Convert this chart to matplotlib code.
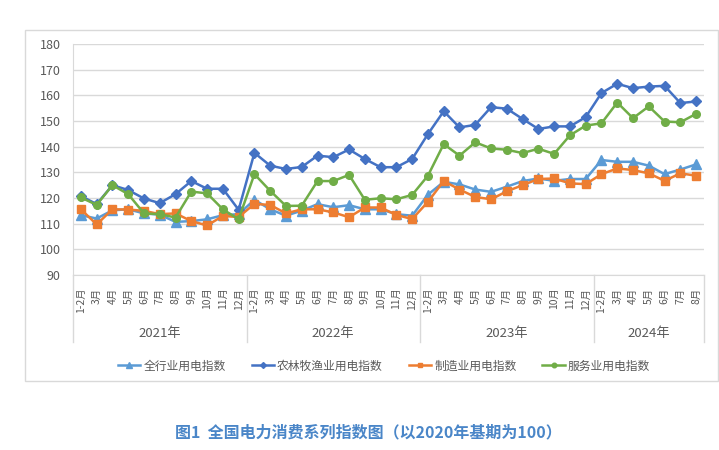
import matplotlib.pyplot as plt
import matplotlib.transforms as mtransforms
from matplotlib.patches import Rectangle

plt.rcParams['font.family'] = ['Noto Sans CJK SC', 'DejaVu Sans']

years = ['2021年', '2022年', '2023年', '2024年']
months_per_year = [11, 11, 11, 7]
month_labels = (['1-2月', '3月', '4月', '5月', '6月', '7月', '8月', '9月', '10月', '11月', '12月'] * 3
                + ['1-2月', '3月', '4月', '5月', '6月', '7月', '8月'])

series_names = ['全行业用电指数', '农林牧渔业用电指数', '制造业用电指数', '服务业用电指数']

total_idx = [113.3, 112.0, 115.2, 115.6, 114.0, 113.5, 110.7, 111.0, 111.7, 113.3, 113.7,
             119.3, 115.6, 113.1, 115.1, 117.6, 116.4, 117.2, 115.6, 115.6, 113.7, 113.1,
             121.3, 126.3, 125.3, 123.3, 122.4, 124.4, 126.6, 127.6, 126.7, 127.4, 127.4,
             134.8, 134.1, 134.1, 132.6, 129.3, 131.1, 133.1]
agri_idx = [120.8, 117.6, 125.0, 123.1, 119.8, 118.0, 121.5, 126.6, 123.6, 123.6, 115.4,
            137.6, 132.6, 131.3, 132.1, 136.5, 135.9, 138.9, 135.2, 132.0, 132.0, 135.2,
            144.9, 153.8, 147.5, 148.5, 155.4, 154.8, 150.8, 146.9, 147.9, 147.9, 151.5,
            160.9, 164.5, 162.8, 163.4, 163.7, 157.0, 157.6]
manu_idx = [115.6, 109.7, 115.6, 115.5, 115.0, 113.7, 114.0, 111.0, 109.3, 113.0, 112.6,
            117.7, 117.3, 114.0, 115.6, 115.6, 114.4, 112.5, 116.3, 116.3, 113.4, 111.8,
            118.5, 126.6, 123.3, 120.4, 119.5, 122.6, 125.0, 127.4, 127.6, 125.7, 125.4,
            129.3, 131.5, 130.9, 129.6, 126.7, 129.6, 128.7]
serv_idx = [120.2, 117.3, 125.0, 121.5, 114.0, 113.7, 112.4, 122.5, 121.8, 115.6, 111.7,
            129.3, 122.8, 116.9, 117.0, 126.6, 126.6, 129.0, 119.3, 119.9, 119.5, 121.2,
            128.7, 141.0, 136.5, 141.7, 139.3, 138.8, 137.5, 139.2, 137.2, 144.4, 148.2,
            149.1, 157.2, 151.1, 155.7, 149.8, 149.5, 152.8]

W, H = 719, 450
fig = plt.figure(figsize=(W / 100, H / 100), dpi=100)

# chart frame
fig.patches.append(Rectangle((25 / W, 1 - 381 / H), (718 - 25) / W, (381 - 30) / H,
                             transform=fig.transFigure, fill=False,
                             edgecolor='#d9d9d9', lw=1.0))

ax = fig.add_axes([73 / W, 1 - 275 / H, (704 - 73) / W, (275 - 44) / H])

x = list(range(len(month_labels)))
styles = [
    (total_idx, '#5b9bd5', '^', 6.5),
    (agri_idx, '#4472c4', 'D', 5),
    (manu_idx, '#ed7d31', 's', 5.5),
    (serv_idx, '#70ad47', 'o', 5.5),
]
for (vals, col, mk, ms), name in zip(styles, series_names):
    ax.plot(x, vals, color=col, lw=1.8, marker=mk, ms=ms, label=name)

ax.set_xlim(-0.5, len(month_labels) - 0.5)
ax.set_ylim(90, 180)
ax.set_yticks(range(90, 181, 10))
ax.grid(axis='y', color='#d9d9d9', lw=1)
ax.set_axisbelow(True)
for s in ['top', 'right']:
    ax.spines[s].set_visible(False)
ax.spines['left'].set_color('#d9d9d9')
ax.spines['bottom'].set_color('#d9d9d9')
ax.tick_params(axis='y', length=0, pad=9, labelsize=9, labelcolor='#595959')
ax.set_xticks(x)
ax.set_xticklabels(month_labels, rotation=90, fontsize=7.5, color='#595959')
ax.tick_params(axis='x', length=0, pad=9)

# year groups
trans = mtransforms.blended_transform_factory(ax.transData, ax.transAxes)
ybot = -(342 - 275) / (275 - 44)
ytxt = -(333 - 275) / (275 - 44)
start = 0
edges = [-0.5]
for yr, n in zip(years, months_per_year):
    ax.text(start + (n - 1) / 2, ytxt, yr, transform=trans, ha='center', va='center',
            fontsize=9.5, color='#595959')
    start += n
    edges.append(start - 0.5)
for e in edges:
    ax.plot([e, e], [0, ybot], transform=trans, color='#d9d9d9', lw=1, clip_on=False)

fig.legend(loc='center', bbox_to_anchor=(384 / W, 1 - 366 / H), ncol=4, frameon=False,
           fontsize=8.5, handlelength=1.9, columnspacing=2.2, handletextpad=0.25,
           markerscale=0.6, labelcolor='#595959')

fig.text(368 / W, 1 - 432 / H, '图1  全国电力消费系列指数图（以2020年基期为100）',
         ha='center', va='center', fontsize=11.5, fontweight='bold', color='#4a86c8')

fig.savefig('out.png', dpi=100)
